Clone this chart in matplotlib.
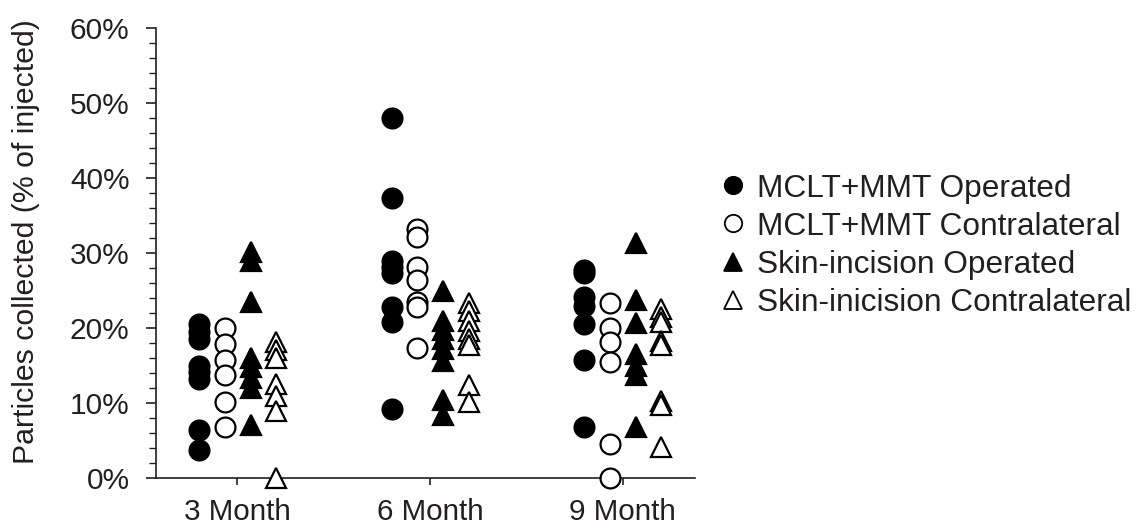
import matplotlib
matplotlib.use("Agg")
import matplotlib.pyplot as plt
from matplotlib.ticker import MultipleLocator, FuncFormatter
from matplotlib.lines import Line2D

plt.rcParams['font.family'] = ['Liberation Sans', 'DejaVu Sans']

groups = ["3 Month", "6 Month", "9 Month"]
series_names = ["MCLT+MMT Operated", "MCLT+MMT Contralateral",
                "Skin-incision Operated", "Skin-inicision Contralateral"]

# values in % of injected, per group (3, 6, 9 Month)
mclt_operated = [
    [20.5, 19.5, 18.6, 15.0, 14.1, 13.2, 6.4, 3.7],
    [48.0, 37.4, 29.0, 28.2, 27.3, 22.8, 20.8, 9.2],
    [27.8, 27.3, 24.2, 23.0, 20.6, 15.7, 6.8],
]
mclt_contra = [
    [20.0, 17.9, 15.7, 13.8, 10.1, 6.8],
    [33.2, 32.2, 28.1, 26.4, 23.5, 22.8, 17.3],
    [23.3, 20.0, 18.1, 15.5, 4.6, 0.0],
]
skin_operated = [
    [30.2, 28.9, 23.5, 16.0, 14.8, 13.4, 12.0, 7.1],
    [25.0, 21.0, 19.7, 18.5, 17.2, 15.6, 10.4, 8.4],
    [31.3, 23.7, 20.7, 16.6, 15.0, 13.7, 6.8],
]
skin_contra = [
    [18.1, 17.1, 16.0, 12.6, 11.0, 9.0, 0.0],
    [23.4, 22.3, 21.0, 19.6, 18.5, 17.7, 12.4, 10.2],
    [22.6, 21.5, 20.8, 18.3, 17.7, 10.3, 9.7, 4.2],
]

all_series = [mclt_operated, mclt_contra, skin_operated, skin_contra]
styles = [
    dict(marker='o', mfc='black', mec='black'),
    dict(marker='o', mfc='white', mec='black'),
    dict(marker='^', mfc='black', mec='black'),
    dict(marker='^', mfc='white', mec='black'),
]
offsets = [-0.2, -0.066, 0.068, 0.2]
ink = '#231f20'

fig = plt.figure(figsize=(11.41, 5.28), dpi=100)
ax = fig.add_axes([0.1367, 0.0947, 0.472, 0.852])

for s_idx, series in enumerate(all_series):
    st = styles[s_idx]
    for g_idx, vals in enumerate(series):
        xs = [g_idx + 1 + offsets[s_idx]] * len(vals)
        ax.plot(xs, vals, linestyle='none', marker=st['marker'], ms=14.3,
                mfc=st['mfc'], mec=st['mec'], mew=1.6, clip_on=False, zorder=3)

ax.set_xlim(0.577, 3.372)
ax.set_ylim(0, 60)
ax.set_xticks([1, 2, 3])
ax.set_xticklabels(groups)
ax.yaxis.set_major_locator(MultipleLocator(10))
ax.yaxis.set_minor_locator(MultipleLocator(2))
ax.yaxis.set_major_formatter(FuncFormatter(lambda v, p: f"{int(round(v))}%"))

for sp in ['top', 'right']:
    ax.spines[sp].set_visible(False)
for sp in ['left', 'bottom']:
    ax.spines[sp].set_linewidth(1.2)
    ax.spines[sp].set_color(ink)

ax.tick_params(axis='y', which='major', length=7, width=1.2, pad=12,
               labelsize=21.5, colors=ink)
ax.tick_params(axis='y', which='minor', length=5, width=1.0, colors=ink)
ax.tick_params(axis='x', which='major', length=5, width=1.2, pad=9.5,
               labelsize=21.3, colors=ink)

fig.text(26 / 1141, 1 - 242 / 528, "Particles collected (% of injected)",
         rotation=90, ha='center', va='center', fontsize=21.8, color=ink)

handles = [Line2D([], [], linestyle='none', marker=st['marker'], ms=12.5,
                  mfc=st['mfc'], mec=st['mec'], mew=1.3) for st in styles]
fig.legend(handles, series_names, loc='upper left',
           bbox_to_anchor=(721 / 1141, 1 - 173.5 / 528), frameon=False,
           borderpad=0, borderaxespad=0, handlelength=0.78, handletextpad=0.36,
           labelspacing=0.255, fontsize=22.8, labelcolor=ink)

fig.savefig("out.png", dpi=100)
